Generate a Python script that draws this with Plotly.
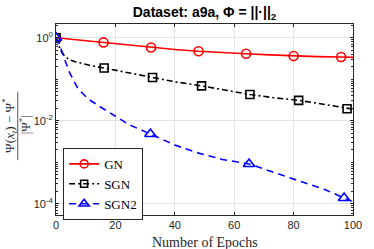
import plotly.graph_objects as go

# ---------------- data ----------------
gn_epochs = [0, 8, 16, 24, 32, 40, 48, 56, 64, 72, 80, 88, 96, 100]
gn_values = [1.0, 0.88, 0.77, 0.67, 0.58, 0.52, 0.47, 0.43, 0.41, 0.385, 0.363, 0.35, 0.343, 0.335]
gn_marker_idx = [0, 2, 4, 6, 8, 10, 12]

sgn_epochs = [0, 0.5, 1.5, 3, 4.5, 6.5, 8, 11, 16.2, 24, 32.5, 40, 49, 57, 65.3, 73, 81.7, 90, 98, 100]
sgn_values = [1.0, 0.76, 0.50, 0.355, 0.295, 0.263, 0.245, 0.219, 0.186, 0.145, 0.110, 0.087,
              0.069, 0.054, 0.043, 0.036, 0.031, 0.025, 0.0195, 0.019]
sgn_marker_idx = [0, 8, 10, 12, 14, 16, 18]

sgn2_epochs = [0, 1, 3, 4.7, 7.4, 10.7, 15, 19.4, 24.8, 31.8, 40, 48, 56, 65, 73, 82, 90.5, 97, 100]
sgn2_values = [1.0, 0.74, 0.29, 0.138, 0.059, 0.034, 0.0214, 0.0135, 0.0079, 0.0048, 0.0026,
               0.00166, 0.00117, 0.00091, 0.00058, 0.00036, 0.00022, 0.000138, 0.000112]
sgn2_marker_idx = [0, 9, 13, 17]

series_names = ["GN", "SGN", "SGN2"]
x_tick_vals = [0, 20, 40, 60, 80, 100]
y_tick_vals = [1, 1e-2, 1e-4]
y_tick_text = ["10<sup>0</sup>", "10<sup>-2</sup>", "10<sup>-4</sup>"]

# ---------------- styles ----------------
AX = "#262626"
SERIF = "Liberation Serif, Times New Roman, serif"
SANS = "Liberation Sans, Arial, sans-serif"

series = [
    (series_names[0], gn_epochs, gn_values, gn_marker_idx, "#ff0000", "solid", "circle-open", 9),
    (series_names[1], sgn_epochs, sgn_values, sgn_marker_idx, "#000000", "6px,3px,2px,3px", "square-open", 8),
    (series_names[2], sgn2_epochs, sgn2_values, sgn2_marker_idx, "#0000ff", "7px,5px", "triangle-up-open", 10),
]

fig = go.Figure()
for name, xs, ys, idx, col, dash, sym, msz in series:
    fig.add_trace(go.Scatter(x=xs, y=ys, mode="lines", showlegend=False, hoverinfo="skip",
                             line=dict(color=col, width=1.6, dash=dash)))
    fig.add_trace(go.Scatter(x=[xs[i] for i in idx], y=[ys[i] for i in idx], mode="markers",
                             showlegend=False,
                             marker=dict(symbol=sym, size=msz, color=col, line=dict(width=1.6, color=col))))
for name, xs, ys, idx, col, dash, sym, msz in series:
    fig.add_trace(go.Scatter(x=[None], y=[None], mode="lines+markers", name=name,
                             line=dict(color=col, width=1.6, dash=dash),
                             marker=dict(symbol=sym, size=msz - 1, color=col, line=dict(width=1.6, color=col))))

minor_vals = [m * 10.0 ** k for k in range(-5, 1) for m in range(1, 10)]
minor_vals = [v for v in minor_vals if v not in (1, 1e-2, 1e-4)]

fig.update_layout(
    width=374, height=249,
    margin=dict(l=56, r=12, t=24, b=34),
    paper_bgcolor="white", plot_bgcolor="white",
    title=dict(text="<b>Dataset: a9a, \u03a6 = ||\u00b7||<sub>2</sub></b>",
               x=0.5, xref="paper", xanchor="center", y=0.952, yanchor="middle",
               font=dict(family=SANS, size=14, color="#000000")),
    xaxis=dict(range=[0, 100], tickvals=x_tick_vals, ticks="inside", ticklen=3, tickcolor=AX,
               showline=True, linecolor=AX, linewidth=1, mirror="ticks",
               showgrid=True, gridcolor="#e4e4e4", gridwidth=1, zeroline=False,
               tickfont=dict(family=SANS, size=11, color=AX)),
    yaxis=dict(type="log", range=[-4.27, 0.33], tickvals=y_tick_vals, ticktext=y_tick_text,
               ticks="inside", ticklen=3, tickcolor=AX,
               showline=True, linecolor=AX, linewidth=1, mirror="ticks",
               showgrid=True, gridcolor="#e4e4e4", gridwidth=1, zeroline=False,
               tickfont=dict(family=SANS, size=11, color=AX),
               minor=dict(tickvals=minor_vals, ticks="inside", ticklen=2, tickcolor=AX, showgrid=False)),
    legend=dict(x=0.024, y=0.351, xanchor="left", yanchor="top",
                bgcolor="white", bordercolor=AX, borderwidth=1,
                font=dict(family=SERIF, size=13, color="#000000"),
                tracegroupgap=0, itemwidth=30),
    annotations=[
        dict(text="Number of Epochs", xref="paper", yref="paper", x=0.5, y=-0.1416,
             xanchor="center", yanchor="middle", showarrow=False,
             font=dict(family=SERIF, size=14, color=AX)),
        dict(text="\u03a8(<i>x</i><sub><i>t</i></sub>) \u2212 \u03a8<sup>*</sup>", xref="paper", yref="paper",
             x=-0.156, y=0.47, xanchor="center", yanchor="middle", textangle=-90, showarrow=False,
             font=dict(family=SERIF, size=13, color=AX)),
        dict(text="|\u03a8<sup>*</sup>|", xref="paper", yref="paper",
             x=-0.104, y=0.47, xanchor="center", yanchor="middle", textangle=-90, showarrow=False,
             font=dict(family=SERIF, size=13, color=AX)),
    ],
    shapes=[dict(type="line", xref="paper", yref="paper", x0=-0.1287, x1=-0.1287, y0=0.643, y1=0.287,
                 line=dict(color=AX, width=0.8))],
)

fig.write_html("out.html", config={"displayModeBar": False},
               post_script="document.body.style.margin='0';document.body.style.padding='0';")
